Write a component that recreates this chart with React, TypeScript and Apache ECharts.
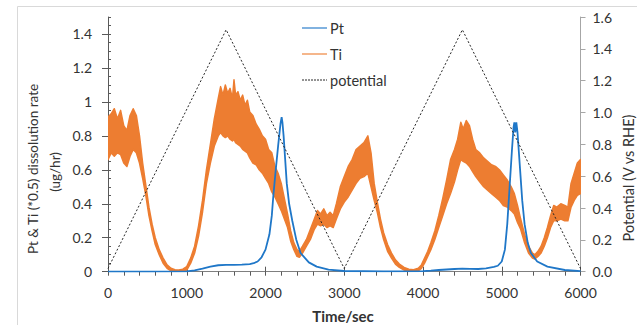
import React, { useEffect, useRef } from "react";
import * as echarts from "echarts";

// ---------- data ----------
const leftTickValues = [0, 0.2, 0.4, 0.6, 0.8, 1, 1.2, 1.4];
const legendNames = ["Pt", "Ti", "potential"];

const ptTime = [0, 500, 1000, 1100, 1200, 1300, 1400, 1500, 1600, 1700, 1800, 1850, 1900, 1950, 2000, 2050, 2080, 2100, 2130, 2160, 2190, 2205, 2215, 2230, 2250, 2270, 2300, 2340, 2390, 2445, 2550, 2650, 2800, 3000, 3500, 4000, 4100, 4200, 4300, 4400, 4500, 4600, 4700, 4800, 4900, 4950, 5000, 5040, 5070, 5100, 5130, 5150, 5160, 5172, 5185, 5200, 5230, 5260, 5290, 5330, 5370, 5450, 5580, 5800, 6000];
const ptRate = [0, 0, 0.002, 0.008, 0.018, 0.03, 0.038, 0.04, 0.04, 0.042, 0.045, 0.05, 0.06, 0.085, 0.13, 0.22, 0.33, 0.45, 0.6, 0.74, 0.87, 0.91, 0.88, 0.8, 0.66, 0.52, 0.4, 0.3, 0.19, 0.11, 0.055, 0.03, 0.012, 0.004, 0.002, 0.003, 0.006, 0.01, 0.013, 0.016, 0.018, 0.017, 0.016, 0.02, 0.028, 0.035, 0.06, 0.13, 0.28, 0.5, 0.72, 0.85, 0.88, 0.82, 0.88, 0.82, 0.62, 0.42, 0.28, 0.17, 0.11, 0.06, 0.03, 0.01, 0.003];

const tiTime = [0, 40, 80, 120, 160, 200, 240, 280, 320, 360, 400, 440, 480, 520, 560, 600, 650, 700, 750, 800, 850, 900, 950, 1000, 1050, 1100, 1150, 1200, 1250, 1300, 1350, 1400, 1430, 1460, 1490, 1520, 1550, 1580, 1600, 1620, 1650, 1680, 1710, 1740, 1770, 1800, 1840, 1880, 1920, 1960, 2000, 2040, 2080, 2120, 2160, 2200, 2240, 2280, 2320, 2360, 2400, 2430, 2470, 2520, 2570, 2620, 2660, 2700, 2740, 2780, 2820, 2860, 2900, 2950, 3000, 3050, 3100, 3150, 3200, 3250, 3300, 3340, 3380, 3420, 3460, 3500, 3550, 3600, 3650, 3700, 3760, 3820, 3880, 3940, 3980, 4020, 4060, 4100, 4150, 4200, 4250, 4300, 4350, 4400, 4440, 4480, 4510, 4550, 4590, 4630, 4670, 4720, 4770, 4820, 4870, 4920, 4970, 5020, 5070, 5120, 5160, 5200, 5240, 5290, 5340, 5390, 5420, 5460, 5500, 5540, 5580, 5620, 5660, 5700, 5750, 5800, 5840, 5880, 5920, 5960, 6000];
const tiHigh = [0.91, 0.93, 0.96, 0.9, 0.95, 0.86, 0.83, 0.92, 0.96, 0.92, 0.8, 0.64, 0.51, 0.38, 0.28, 0.2, 0.13, 0.08, 0.04, 0.02, 0.012, 0.01, 0.015, 0.03, 0.08, 0.15, 0.27, 0.42, 0.6, 0.75, 0.9, 1.02, 1.09, 1.04, 1.1, 1.05, 1.08, 1.02, 1.13, 1.04, 1.06, 1.01, 1.04, 0.98, 1.01, 0.94, 0.92, 0.87, 0.84, 0.8, 0.78, 0.72, 0.7, 0.62, 0.58, 0.52, 0.43, 0.34, 0.24, 0.17, 0.13, 0.12, 0.15, 0.19, 0.25, 0.31, 0.36, 0.34, 0.37, 0.33, 0.35, 0.33, 0.4, 0.5, 0.56, 0.62, 0.66, 0.72, 0.74, 0.76, 0.8, 0.7, 0.52, 0.41, 0.31, 0.23, 0.16, 0.11, 0.07, 0.045, 0.025, 0.015, 0.012, 0.02, 0.04, 0.08, 0.12, 0.17, 0.24, 0.33, 0.43, 0.54, 0.66, 0.72, 0.78, 0.88, 0.84, 0.89, 0.86, 0.78, 0.72, 0.7, 0.67, 0.65, 0.63, 0.62, 0.6, 0.57, 0.54, 0.5, 0.46, 0.39, 0.31, 0.22, 0.15, 0.11, 0.1, 0.12, 0.15, 0.2, 0.26, 0.33, 0.39, 0.38, 0.4, 0.39, 0.38, 0.52, 0.58, 0.64, 0.66];
const tiLow = [0.66, 0.7, 0.68, 0.7, 0.69, 0.64, 0.62, 0.68, 0.72, 0.7, 0.64, 0.55, 0.45, 0.33, 0.24, 0.16, 0.1, 0.05, 0.02, 0.005, 0, 0, 0, 0.01, 0.05, 0.11, 0.21, 0.35, 0.52, 0.64, 0.74, 0.8, 0.82, 0.8, 0.79, 0.8, 0.78, 0.77, 0.78, 0.76, 0.75, 0.74, 0.72, 0.71, 0.7, 0.67, 0.64, 0.63, 0.6, 0.58, 0.55, 0.52, 0.47, 0.44, 0.4, 0.36, 0.31, 0.26, 0.18, 0.13, 0.09, 0.085, 0.11, 0.15, 0.19, 0.25, 0.28, 0.27, 0.28, 0.26, 0.27, 0.26, 0.31, 0.37, 0.41, 0.44, 0.48, 0.52, 0.55, 0.56, 0.58, 0.5, 0.42, 0.35, 0.26, 0.19, 0.12, 0.08, 0.045, 0.025, 0.01, 0, 0, 0.005, 0.02, 0.05, 0.09, 0.13, 0.19, 0.26, 0.33, 0.4, 0.46, 0.53, 0.6, 0.66, 0.65, 0.64, 0.62, 0.59, 0.56, 0.53, 0.5, 0.48, 0.46, 0.44, 0.42, 0.39, 0.38, 0.36, 0.34, 0.29, 0.25, 0.17, 0.11, 0.08, 0.075, 0.09, 0.11, 0.15, 0.2, 0.26, 0.3, 0.3, 0.31, 0.3, 0.3, 0.38, 0.42, 0.45, 0.46];

const potTime = [0, 1500, 3000, 4500, 6000];
const potValue = [0.02, 1.52, 0.02, 1.52, 0.02];

const FONT = "Lato, 'Liberation Sans', sans-serif";
const TEXT = "#333333";
const PT_COLOR = "#1F77C8";
const TI_COLOR = "#ED7D31";
const POT_COLOR = "#262626";

export default function App() {
  const ref = useRef<HTMLDivElement>(null);
  useEffect(() => {
    document.body.style.margin = "0";
    const chart = echarts.init(ref.current!, null, { renderer: "svg" });
    const ptData = ptTime.map((t, i) => [t, ptRate[i]]);
    const tiData = tiTime.map((t, i) => [t, tiHigh[i], tiLow[i]]);
    const potData = potTime.map((t, i) => [t, potValue[i]]);

    const legendColors = [PT_COLOR, TI_COLOR, POT_COLOR];
    const legendGraphics: any[] = [];
    legendNames.forEach((n, i) => {
      const y = 28 + i * 26;
      legendGraphics.push({
        type: "line",
        silent: true,
        shape: { x1: 302, y1: y, x2: 327, y2: y },
        style: {
          stroke: legendColors[i],
          lineWidth: i === 2 ? 1 : 1.5,
          lineDash: i === 2 ? [2, 1] : null,
          opacity: i === 2 ? 1 : 0.75,
        },
      });
      legendGraphics.push({
        type: "text",
        silent: true,
        x: 330,
        y,
        style: { text: n, fontFamily: FONT, fontSize: 14.5, fill: TEXT, align: "left", verticalAlign: "middle" },
      });
    });

    chart.setOption({
      animation: false,
      backgroundColor: "#ffffff",
      textStyle: { fontFamily: FONT },
      grid: { left: 108, right: 56.5, top: 17, bottom: 53.3, containLabel: false },
      xAxis: [
        {
          type: "value",
          min: 0,
          max: 6000,
          interval: 1000,
          position: "bottom",
          axisLine: { show: true, lineStyle: { color: "#7f7f7f", width: 1 } },
          axisTick: { show: true, inside: false, length: 4, lineStyle: { color: "#595959" } },
          minorTick: { show: true, splitNumber: 5, length: 4, lineStyle: { color: "#595959" } },
          axisLabel: { margin: 14, fontFamily: FONT, fontSize: 14, color: TEXT, formatter: (v: number) => String(v) },
          splitLine: { show: false },
        },
        {
          type: "value",
          min: 0,
          max: 6000,
          interval: 1000,
          position: "bottom",
          axisLine: { show: false },
          axisTick: { show: true, inside: true, length: 5, lineStyle: { color: "#595959" } },
          axisLabel: { show: false },
          splitLine: { show: false },
        },
      ],
      yAxis: [
        {
          type: "value",
          min: 0,
          max: 1.5,
          interval: 0.2,
          position: "left",
          axisLine: { show: true, lineStyle: { color: "#595959", width: 1 } },
          axisTick: { show: true, inside: false, length: 6, customValues: leftTickValues, lineStyle: { color: "#595959" } },
          axisLabel: { customValues: leftTickValues, margin: 16, fontFamily: FONT, fontSize: 14, color: TEXT, formatter: (v: number) => String(v) },
          splitLine: { show: false },
        },
        {
          type: "value",
          min: 0,
          max: 1.5,
          interval: 0.05,
          position: "left",
          axisLine: { show: false },
          axisTick: { show: true, inside: true, length: 3, lineStyle: { color: "#595959" } },
          axisLabel: { show: false },
          splitLine: { show: false },
        },
        {
          type: "value",
          min: 0,
          max: 1.6,
          interval: 0.2,
          position: "right",
          axisLine: { show: true, lineStyle: { color: "#a6a6a6", width: 1 } },
          axisTick: { show: true, inside: false, length: 5, lineStyle: { color: "#a6a6a6" } },
          axisLabel: { margin: 12, fontFamily: FONT, fontSize: 14, color: TEXT, formatter: (v: number) => v.toFixed(1) },
          splitLine: { show: false },
        },
      ],
      series: [
        {
          name: "Ti",
          type: "custom",
          xAxisIndex: 0,
          yAxisIndex: 0,
          data: tiData,
          encode: { x: 0, y: [1, 2] },
          clip: true,
          z: 2,
          renderItem: (params: any, api: any) => {
            if (params.dataIndex !== 0) return null;
            const pts: number[][] = [];
            for (let i = 0; i < tiTime.length; i++) pts.push(api.coord([tiTime[i], tiHigh[i]]));
            for (let i = tiTime.length - 1; i >= 0; i--) pts.push(api.coord([tiTime[i], tiLow[i]]));
            return {
              type: "polygon",
              shape: { points: pts },
              style: { fill: TI_COLOR, stroke: TI_COLOR, lineWidth: 1.5, lineJoin: "round" },
            };
          },
        },
        {
          name: "Pt",
          type: "line",
          xAxisIndex: 0,
          yAxisIndex: 0,
          data: ptData,
          symbol: "none",
          lineStyle: { color: PT_COLOR, width: 1.8 },
          itemStyle: { color: PT_COLOR },
          z: 3,
        },
        {
          name: "potential",
          type: "line",
          xAxisIndex: 0,
          yAxisIndex: 2,
          data: potData,
          symbol: "none",
          lineStyle: { color: POT_COLOR, width: 1, type: [2, 2] },
          itemStyle: { color: POT_COLOR },
          z: 4,
        },
      ],
      graphic: [
        {
          type: "rect",
          silent: true,
          z: -1,
          shape: { x: 17.5, y: 6.5, width: 700, height: 400 },
          style: { fill: "none", stroke: "#d9d9d9", lineWidth: 1 },
        },
        ...legendGraphics,
        {
          type: "text",
          silent: true,
          x: 33,
          y: 169,
          rotation: Math.PI / 2,
          style: { text: "Pt & Ti (*0.5) dissolution rate", fontFamily: FONT, fontSize: 13.5, fill: TEXT, align: "center", verticalAlign: "middle" },
        },
        {
          type: "text",
          silent: true,
          x: 55,
          y: 172,
          rotation: Math.PI / 2,
          style: { text: "(ug/hr)", fontFamily: FONT, fontSize: 13.5, fill: TEXT, align: "center", verticalAlign: "middle" },
        },
        {
          type: "text",
          silent: true,
          x: 628,
          y: 178,
          rotation: Math.PI / 2,
          style: { text: "Potential (V vs RHE)", fontFamily: FONT, fontSize: 14.5, fill: TEXT, align: "center", verticalAlign: "middle" },
        },
        {
          type: "text",
          silent: true,
          x: 343,
          y: 316,
          style: { text: "Time/sec", fontFamily: FONT, fontSize: 15, fontWeight: "bold", fill: TEXT, align: "center", verticalAlign: "middle" },
        },
      ],
    });
    return () => chart.dispose();
  }, []);
  return <div ref={ref} style={{ width: 637, height: 325 }} />;
}
